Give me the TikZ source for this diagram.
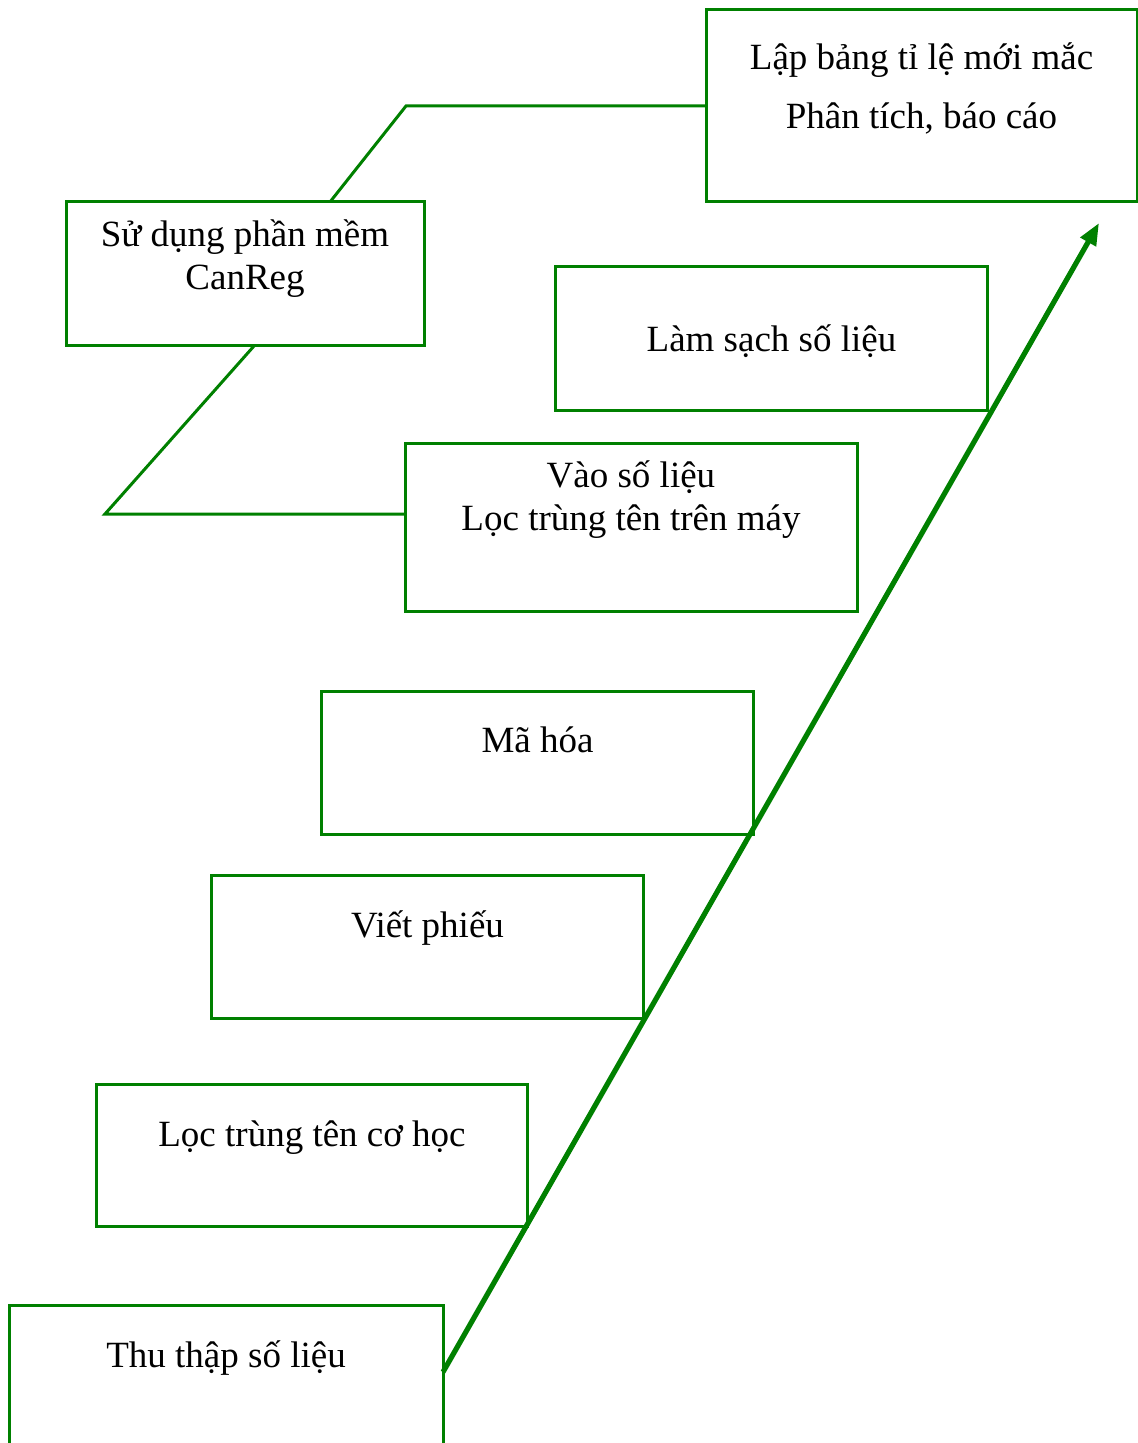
\documentclass[tikz,border=0pt]{standalone}
\usepackage{fontspec}
\setmainfont{Liberation Serif}
\usetikzlibrary{arrows.meta,calc}
\definecolor{flowgreen}{RGB}{0,128,0}
\tikzset{
  stepbox/.style={draw=flowgreen, line width=1.5pt, fill=white, inner sep=0pt, outer sep=0pt},
  steptext/.style={anchor=base, inner sep=0pt, align=center, font=\fontsize{18.5}{21.5}\selectfont},
  link/.style={draw=flowgreen, line width=1.5pt},
  rise/.style={draw=flowgreen, line width=2.6pt, -{Triangle[length=11pt, width=8.5pt]}}
}
\begin{document}
\begin{tikzpicture}[x=0.5pt, y=-0.5pt]
\useasboundingbox (0,0) rectangle (1138,1443);

% step boxes (centre, width, height)
\node[stepbox, minimum width=215.5pt, minimum height=96pt]   (b1) at (921.5,106) {};
\node[stepbox, minimum width=179pt,   minimum height=72pt]   (b2) at (245,274) {};
\node[stepbox, minimum width=216pt,   minimum height=72pt]   (b3) at (771,339) {};
\node[stepbox, minimum width=226pt,   minimum height=84pt]   (b4) at (631,527) {};
\node[stepbox, minimum width=216pt,   minimum height=71.5pt] (b5) at (537,762.5) {};
\node[stepbox, minimum width=216pt,   minimum height=71.5pt] (b6) at (427,946.5) {};
\node[stepbox, minimum width=215.5pt, minimum height=71pt]   (b7) at (311.5,1155) {};
\node[stepbox, minimum width=217pt,   minimum height=90pt]   (b8) at (226,1395) {};

% labels (base anchor = baseline of the last line)
\node[steptext, font=\fontsize{18.5}{29.5}\selectfont] (t1) at (921.5,129)
  {Lập bảng tỉ lệ mới mắc\\Phân tích, báo cáo};
\node[steptext] (t2) at (245,290) {Sử dụng phần mềm\\CanReg};
\node[steptext] (t3) at (771.5,352) {Làm sạch số liệu};
\node[steptext] (t4) at (631,530) {Vào số liệu\\Lọc trùng tên trên máy};
\node[steptext] (t5) at (537.5,752) {Mã hóa};
\node[steptext] (t6) at (427.5,937) {Viết phiếu};
\node[steptext] (t7) at (312,1146) {Lọc trùng tên cơ học};
\node[steptext] (t8) at (226,1367) {Thu thập số liệu};

% elbow connectors on the left
\coordinate (k1) at (105,514);
\coordinate (k2) at (406,106);
\draw[link] ($(b4.north west)+(0,71)$) -- (k1) -- ($(b2.south)+(9,0)$);
\draw[link] ($(b2.north)+(85,0)$) -- (k2) -- (b1.west);

% rising arrow along the step corners
\coordinate (tip) at (1099,223);
\draw[rise] ($(b8.north east)+(0,67)$) -- (tip);
\end{tikzpicture}
\end{document}
